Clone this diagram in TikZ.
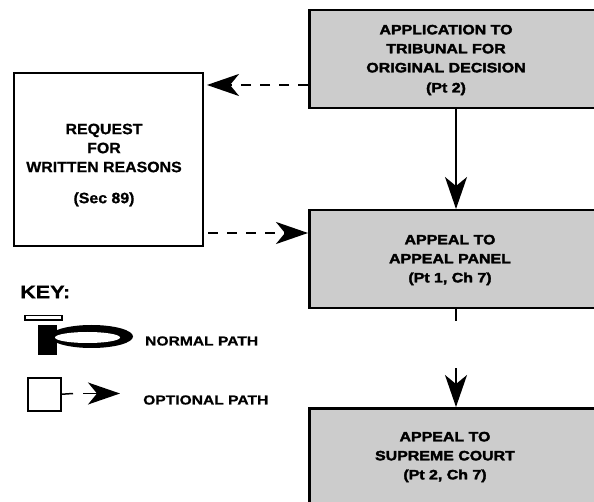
\documentclass[tikz,border=0pt]{standalone}
\usepackage{fontspec}
\setmainfont{Liberation Sans}
\newfontfamily\gfont[FakeStretch=1.18,FakeBold=2.5]{Liberation Sans}
\newfontfamily\kfont[FakeStretch=1.2,FakeBold=0.8]{Liberation Sans}
\newfontfamily\lfont[FakeStretch=1.06,FakeBold=0.8]{Liberation Sans}
\usetikzlibrary{arrows.meta}
\begin{document}
\begin{tikzpicture}[x=1pt,y=1pt,
  graybox/.style={draw=black, line width=2.5pt, fill=black!20, inner sep=0pt},
  plainbox/.style={draw=black, line width=2pt, fill=white, inner sep=0pt},
  graytext/.style={font=\gfont\bfseries\fontsize{13.5}{19}\selectfont, align=center, inner sep=0pt},
  lefttext/.style={font=\lfont\bfseries\fontsize{15}{19}\selectfont, align=center, inner sep=0pt},
  keytext/.style={font=\kfont\bfseries\fontsize{13}{16}\selectfont, anchor=west, inner sep=0pt},
  bigtip/.tip={Stealth[length=32pt,width=22pt,inset=9pt]},
  solidarrow/.style={line width=1.5pt, -bigtip},
  thinline/.style={line width=1.5pt},
  dasharrow/.style={line width=2.5pt, dash pattern=on 10pt off 9pt, -bigtip}
]
\useasboundingbox (0,0) rectangle (594,-502);
\clip (0,0) rectangle (594,-502);

% boxes
\node[graybox, anchor=north west, minimum width=300pt, minimum height=98pt] (app) at (308,-9) {};
\node[graybox, anchor=north west, minimum width=300pt, minimum height=98pt] (panel) at (308,-209) {};
\node[graybox, anchor=north west, minimum width=300pt, minimum height=130pt] (court) at (308,-407) {};
\node[plainbox, anchor=north west, minimum width=189pt, minimum height=173pt] (req) at (13,-72) {};

% box texts
\node[graytext] (apptext) at (446,-60) {APPLICATION TO\\TRIBUNAL FOR\\ORIGINAL DECISION\\[1pt](Pt 2)};
\node[graytext] (paneltext) at (450,-260) {APPEAL TO\\APPEAL PANEL\\(Pt 1, Ch 7)};
\node[graytext] (courttext) at (445,-457) {APPEAL TO\\SUPREME COURT\\(Pt 2, Ch 7)};
\node[lefttext] (reqtext) at (104,-165) {REQUEST\\FOR\\WRITTEN REASONS\\[12pt](Sec 89)};

% connectors
\coordinate (col) at (456,0);
\draw[solidarrow] (app.south -| col) -- (panel.north -| col);
\coordinate (stubend) at (456,-321);
\coordinate (resume) at (456,-368);
\draw[thinline] (panel.south -| col) -- (stubend);
\draw[solidarrow] (resume) -- (court.north -| col);

\coordinate (d1) at (0,-85);
\coordinate (d2) at (0,-233);
\draw[dasharrow] (app.west |- d1) -- ([xshift=3pt]req.east |- d1);
\draw[dasharrow] ([xshift=4pt]req.east |- d2) -- (panel.west |- d2);

% key
\node[font=\kfont\bfseries\fontsize{18}{20}\selectfont, anchor=west, inner sep=0pt] (key) at (20,-292) {KEY:};

% normal path symbol
\draw[line width=1.4pt, fill=white] (25,-315.5) rectangle (62,-320);
\fill[black] (38,-325) rectangle (57,-355);
\fill[black] (91.5,-336.5) ellipse [x radius=41.5, y radius=11.5];
\fill[white] (87.5,-337.5) ellipse [x radius=32.5, y radius=5.5];
\node[keytext] (normal) at (145,-341) {NORMAL PATH};

% optional path symbol
\node[draw=black, line width=1.5pt, minimum size=33pt, inner sep=0pt, anchor=north west] (ksq) at (27,-377) {};
\coordinate (kd) at (73,-393.5);
\draw[line width=1.5pt] (ksq.east) -- (kd);
\coordinate (ka) at (83,-393.5);
\coordinate (kb) at (120,-393.5);
\draw[line width=1.5pt, -{Stealth[length=32pt,width=22pt,inset=9pt]}] (ka) -- (kb);
\node[keytext] (optional) at (143,-400) {OPTIONAL PATH};
\end{tikzpicture}
\end{document}
